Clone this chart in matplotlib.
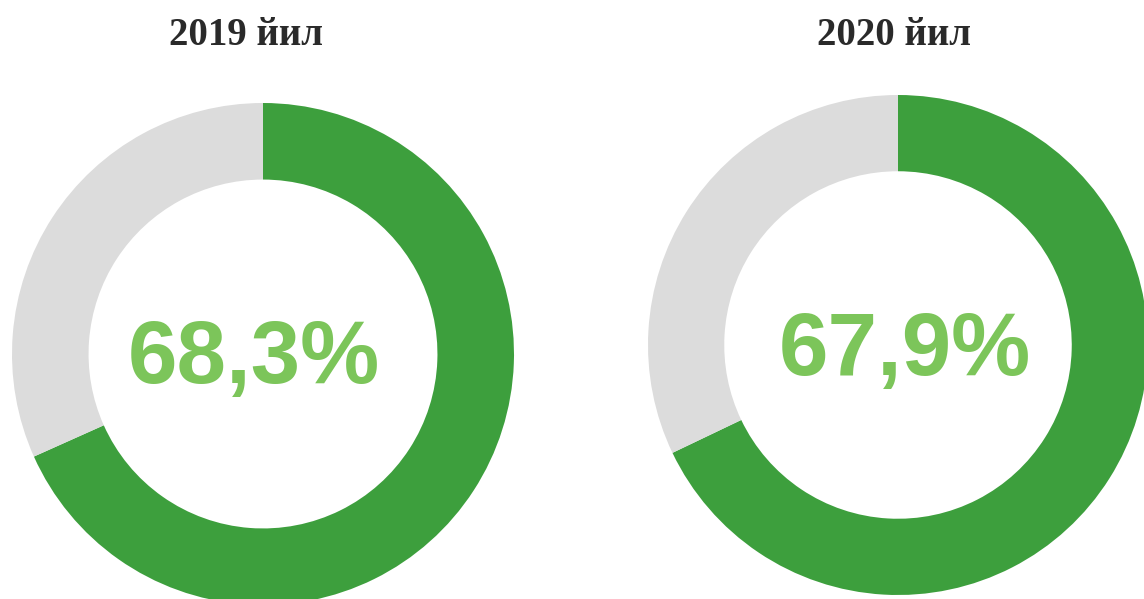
import matplotlib
matplotlib.use('Agg')
import matplotlib.pyplot as plt

# данные
years = ['2019 йил', '2020 йил']
shares = [68.3, 67.9]
labels = ['68,3%', '67,9%']

green = '#3d9f3d'
grey = '#dcdcdc'
text_green = '#7cc55a'

W, H = 1144, 599
fig = plt.figure(figsize=(W / 100, H / 100), dpi=100)

# центр и радиус колец в пикселях (x, y сверху)
rings = [(263, 354, 251), (898, 345, 250)]
text_pos = [(254, 383), (905, 375)]   # базовая линия
title_pos = [(246, 45), (894, 45)]

for i, (cx, cy, r) in enumerate(rings):
    ax = fig.add_axes([(cx - r) / W, (H - cy - r) / H, 2 * r / W, 2 * r / H])
    ax.pie([shares[i], 100 - shares[i]], colors=[green, grey], startangle=90,
           counterclock=False, radius=1.0,
           wedgeprops=dict(width=0.305, edgecolor='none'))
    ax.set_xlim(-1, 1)
    ax.set_ylim(-1, 1)
    ax.set_aspect('auto')
    ax.axis('off')

    tx, ty = text_pos[i]
    fig.text(tx / W, 1 - ty / H, labels[i], ha='center', va='baseline',
             fontsize=64, fontweight='bold', color=text_green,
             family='Liberation Sans')
    px, py = title_pos[i]
    fig.text(px / W, 1 - py / H, years[i], ha='center', va='baseline',
             fontsize=28, fontweight='bold', color='#2a2a2a',
             family='Liberation Serif')

fig.savefig('out.png', dpi=100, facecolor='white')
